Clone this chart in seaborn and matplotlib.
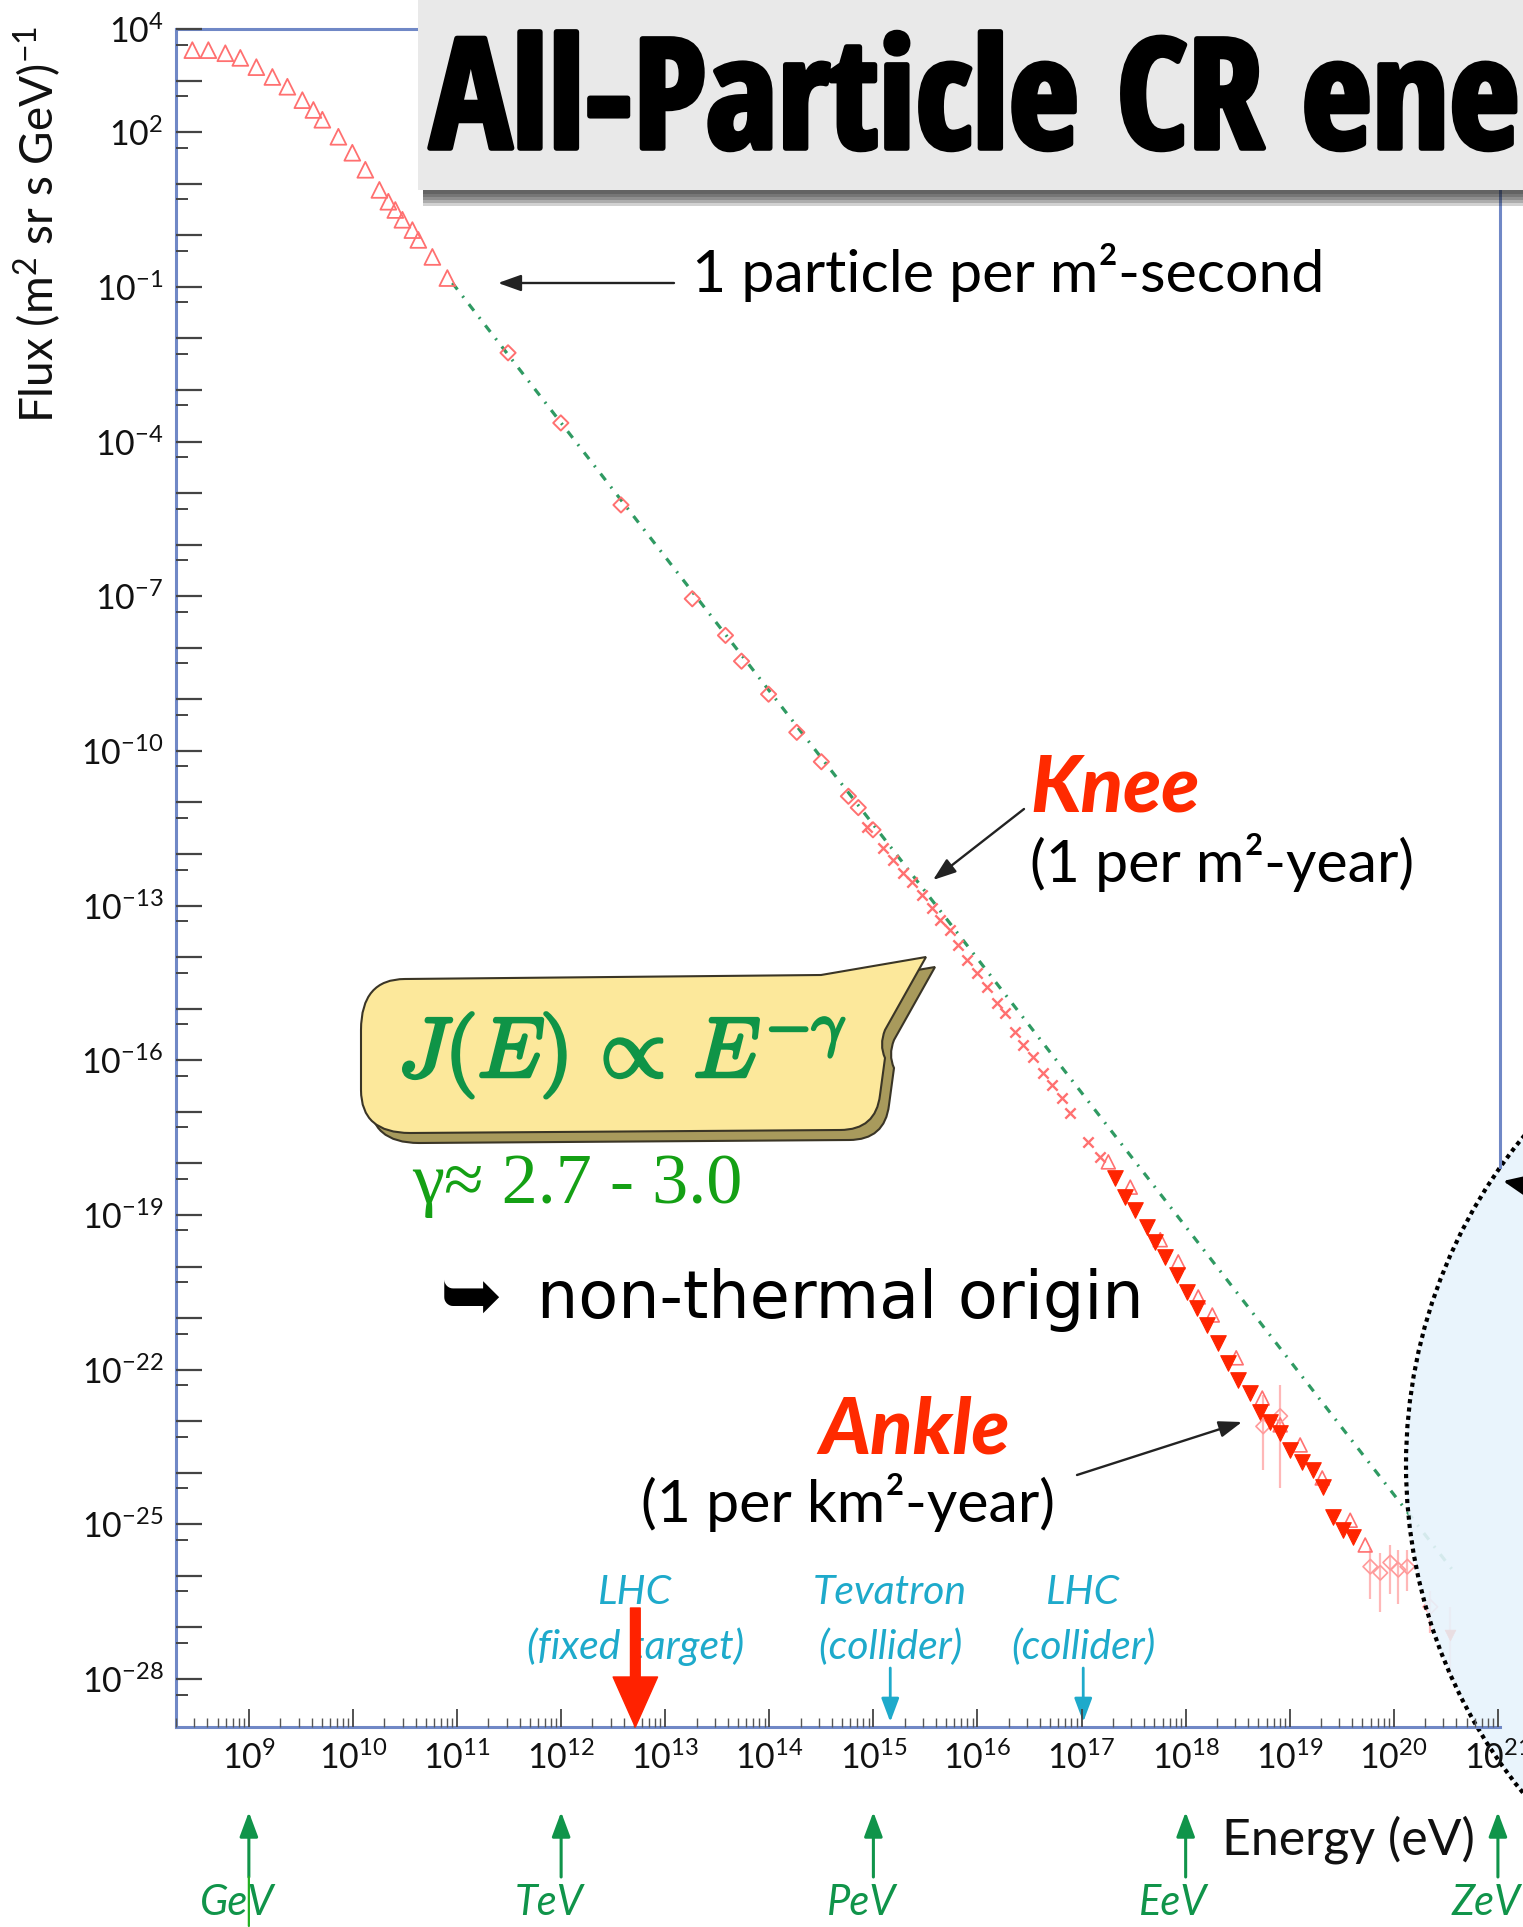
import numpy as np
import pandas as pd
import matplotlib
matplotlib.use("Agg")
import matplotlib.pyplot as plt
import seaborn as sns
from matplotlib import font_manager
from matplotlib.patches import Rectangle, Ellipse, PathPatch
from matplotlib.path import Path
from matplotlib.transforms import Affine2D
import matplotlib.patheffects as pe
from matplotlib.ticker import FixedLocator, FixedFormatter, NullFormatter

# ---------------- values: log10(E/eV), log10(flux) ----------------
low_logE = [8.457, 8.611, 8.774, 8.918, 9.072, 9.226, 9.370, 9.514, 9.620, 9.706, 9.860,
            9.994, 10.119, 10.254, 10.340, 10.407, 10.475, 10.571, 10.628, 10.763, 10.907]
low_logF = [3.59, 3.59, 3.53, 3.44, 3.26, 3.07, 2.88, 2.62, 2.43, 2.24, 1.91,
            1.60, 1.27, 0.88, 0.65, 0.49, 0.30, 0.10, -0.09, -0.42, -0.83]
dia_logE = [11.490, 11.997, 12.575, 13.260, 13.579, 13.733, 13.993, 14.264, 14.500, 14.760, 14.855, 14.996]
dia_logF = [-2.28, -3.64, -5.23, -7.05, -7.76, -8.26, -8.90, -9.64, -10.21, -10.88, -11.10, -11.53]
knee_logE = [14.941, 15.095, 15.191, 15.287, 15.374, 15.470, 15.566, 15.643, 15.739, 15.816, 15.902, 15.998,
             16.094, 16.190, 16.267, 16.363, 16.440, 16.536, 16.632, 16.719, 16.815, 16.892, 17.064, 17.180]
knee_logF = [-11.47, -11.88, -12.11, -12.37, -12.54, -12.79, -13.04, -13.28, -13.47, -13.76, -14.05, -14.30,
             -14.58, -14.89, -15.08, -15.45, -15.70, -15.93, -16.24, -16.48, -16.73, -17.02, -17.58, -17.87]
uhe_logE = [17.324, 17.420, 17.516, 17.631, 17.708, 17.804, 17.919, 18.015, 18.111, 18.207, 18.313, 18.409,
            18.505, 18.620, 18.716, 18.812, 18.908, 19.004, 19.120, 19.226, 19.322, 19.418, 19.514, 19.610]
uhe_logF = [-18.28, -18.65, -18.90, -19.23, -19.52, -19.81, -20.16, -20.49, -20.80, -21.13, -21.48, -21.87,
            -22.20, -22.45, -22.82, -23.01, -23.23, -23.56, -23.79, -23.94, -24.27, -24.85, -25.10, -25.24]
alt_logE = [17.257, 17.468, 17.756, 17.929, 18.121, 18.256, 18.486, 18.736, 18.908, 19.100, 19.312, 19.581, 19.725]
alt_logF = [-17.97, -18.46, -19.48, -19.91, -20.59, -20.94, -21.77, -22.55, -23.07, -23.46, -24.10, -24.92, -25.40]
err_logE = [18.745, 18.908, 19.774, 19.870, 19.966, 20.043, 20.130, 20.351, 20.543]
err_logF = [-23.10, -22.90, -25.82, -25.94, -25.74, -25.88, -25.82, -26.60, -27.14]
err_lo = [-23.95, -24.30, -26.45, -26.70, -26.35, -26.55, -26.30, -27.10, -27.90]
err_hi = [-22.50, -22.30, -25.45, -25.55, -25.40, -25.50, -25.50, -26.30, -26.60]
fit_logE = [10.955, 20.6]
fit_logF = [-0.925, -25.98]

x_major_exp = list(range(9, 22))
y_major_exp = list(range(-28, 5))
y_label_exp = [4, 2, -1, -4, -7, -10, -13, -16, -19, -22, -25, -28]
unit_names = ["GeV", "TeV", "PeV", "EeV", "ZeV"]
unit_exp = [9, 12, 15, 18, 21]
acc_top = ["LHC", "Tevatron", "LHC"]
acc_bottom = ["(fixed target)", "(collider)", "(collider)"]
acc_logE = [12.713, 15.162, 17.016]

# ---------------- fonts ----------------
avail = {f.name for f in font_manager.fontManager.ttflist}
def pick(*names):
    for n in names:
        if n in avail:
            return n
    return "DejaVu Sans"
SANS = pick("Lato", "Open Sans", "DejaVu Sans")
NARROW = pick("Liberation Sans Narrow", "Open Sans Condensed", "Roboto Condensed", "DejaVu Sans")
SERIF = pick("Liberation Serif", "DejaVu Serif")

sns.set_theme(style="ticks")
plt.rcParams["font.family"] = [SANS, "DejaVu Sans"]
plt.rcParams["mathtext.fontset"] = "custom"
plt.rcParams["mathtext.rm"] = SANS
plt.rcParams["mathtext.it"] = SANS + ":italic"
plt.rcParams["mathtext.bf"] = SANS + ":bold"

W, H = 1523, 1927
fig = plt.figure(figsize=(W / 100, H / 100), dpi=100)
fig.patch.set_facecolor("white")
pxT = Affine2D().scale(1.0 / W, 1.0 / H) + fig.transFigure


def P(X, Y):
    return (X, H - Y)


ax = fig.add_axes([176 / W, 1 - 1727 / H, (1500 - 176) / W, (1727 - 29) / H])
ax.set_xscale("log")
ax.set_yscale("log")
XLIM = (10 ** 8.30, 10 ** 21.02)
YLIM = (10 ** -28.93, 10 ** 4.0)
ax.set_xlim(*XLIM)
ax.set_ylim(*YLIM)


def frame(le, lf):
    return pd.DataFrame({"E": 10.0 ** np.array(le), "F": 10.0 ** np.array(lf)})


GREEN_FIT = "#2f9a62"
PALE = "#ff7070"
RED = "#ff2400"

sns.lineplot(data=frame(fit_logE, fit_logF), x="E", y="F", color=GREEN_FIT, linewidth=2.3,
             linestyle=(0, (2.6, 2.6, 0.6, 2.6)), estimator=None, sort=False, ax=ax, zorder=2)
sns.scatterplot(data=frame(low_logE, low_logF), x="E", y="F", marker="^", s=130, color=PALE,
                facecolor="none", edgecolor=PALE, linewidth=1.3, ax=ax, zorder=2.2, legend=False)
sns.scatterplot(data=frame(dia_logE, dia_logF), x="E", y="F", marker="D", s=60, color=PALE,
                facecolor="none", edgecolor=PALE, linewidth=1.4, ax=ax, zorder=2.2, legend=False)
sns.scatterplot(data=frame(knee_logE, knee_logF), x="E", y="F", marker="x", s=55, color=PALE,
                linewidth=1.7, ax=ax, zorder=2.2, legend=False)
sns.scatterplot(data=frame(alt_logE, alt_logF), x="E", y="F", marker="^", s=100, color=PALE,
                facecolor="none", edgecolor=PALE, linewidth=1.2, ax=ax, zorder=2.1, legend=False)
sns.scatterplot(data=frame(uhe_logE, uhe_logF), x="E", y="F", marker="v", s=125, color=RED,
                edgecolor=RED, linewidth=0.8, ax=ax, zorder=2.2, legend=False)
ax.vlines(10.0 ** np.array(err_logE), 10.0 ** np.array(err_lo), 10.0 ** np.array(err_hi),
          color="#ffb8b8", lw=1.6, zorder=2.0)
sns.scatterplot(data=frame(err_logE[:8], err_logF[:8]), x="E", y="F", marker="D", s=55, color="#ff9a9a",
                facecolor="none", edgecolor="#ff9a9a", linewidth=1.2, ax=ax, zorder=2.1, legend=False)
sns.scatterplot(data=frame(err_logE[8:], err_logF[8:]), x="E", y="F", marker="v", s=60, color=RED,
                edgecolor=RED, linewidth=0.5, ax=ax, zorder=2.2, legend=False)
ax.set_xlabel("")
ax.set_ylabel("")
ax.set_xlim(*XLIM)
ax.set_ylim(*YLIM)
ax.set_autoscale_on(False)

# ---------------- axes styling ----------------
SPINE = "#7088c6"
for s in ax.spines.values():
    s.set_color(SPINE)
    s.set_linewidth(2.2)
ax.spines["right"].set_bounds(10 ** -18.07, 10 ** 4.0)

ax.xaxis.set_major_locator(FixedLocator(10.0 ** np.array(x_major_exp, dtype=float)))
ax.xaxis.set_major_formatter(FixedFormatter([rf"$10^{{{e}}}$" for e in x_major_exp]))
ax.xaxis.set_minor_locator(FixedLocator([k * 10.0 ** n for n in range(8, 21) for k in range(2, 10)]))
ax.xaxis.set_minor_formatter(NullFormatter())
ax.yaxis.set_major_locator(FixedLocator(10.0 ** np.array(y_major_exp, dtype=float)))
ax.yaxis.set_major_formatter(FixedFormatter([rf"$10^{{{e}}}$" if e in y_label_exp else "" for e in y_major_exp]))
ax.yaxis.set_minor_locator(FixedLocator(5.0 * 10.0 ** np.arange(-29, 4, dtype=float)))
ax.yaxis.set_minor_formatter(NullFormatter())

ax.tick_params(axis="x", which="major", direction="in", length=13, width=1.3, color="#444444",
               pad=10, labelsize=24.5, labelcolor="#111111", top=False)
ax.tick_params(axis="x", which="minor", direction="in", length=6.5, width=1.0, color="#555555", top=False)
ax.tick_params(axis="y", which="major", direction="in", length=19, width=1.6, color="#444444",
               pad=9, labelsize=24.5, labelcolor="#111111", right=False)
ax.tick_params(axis="y", which="minor", direction="in", length=8.5, width=1.4, color="#444444", right=False)
ax.xaxis.set_zorder(3)
ax.yaxis.set_zorder(3)

# ---------------- dotted circle (right) ----------------
circ = Ellipse(P(1924, 1465), 2 * 518, 2 * 518, transform=pxT,
               facecolor=(0.905, 0.953, 0.99, 0.9), edgecolor="black", linewidth=3,
               linestyle=(0, (1, 1)), clip_on=False, zorder=2.4)
ax.add_patch(circ)
ax.annotate("", xy=P(1503, 1181), xytext=P(1575, 1195), xycoords=pxT, textcoords=pxT,
            arrowprops=dict(arrowstyle="-|>,head_length=0.8,head_width=0.35", color="black", lw=2.5,
                            mutation_scale=20, shrinkA=0, shrinkB=0), annotation_clip=False, zorder=4)

# ---------------- title box ----------------
for d in [16, 13, 10, 7, 4]:
    fig.add_artist(Rectangle(P(423, 190 + d), 1200, d + 10, transform=pxT, fc="#1a1a1a", ec="none",
                             alpha=0.2, zorder=4))
fig.add_artist(Rectangle(P(418, 190), 1200, 200, transform=pxT, fc="#e9e9e9", ec="none", zorder=5))
fig.text(*P(430, 148), "All-Particle CR energy spectrum", transform=pxT, fontsize=110, family=[NARROW, "DejaVu Sans"],
         fontweight="bold", color="black", ha="left", va="baseline", zorder=6,
         path_effects=[pe.withStroke(linewidth=4, foreground="black")])

# ---------------- speech bubble ----------------
M, L, C, Z = Path.MOVETO, Path.LINETO, Path.CURVE3, Path.CLOSEPOLY
bub = [(405, 979), (821, 975), (926, 957), (885, 1030), (879, 1045), (885, 1058), (880, 1095),
       (876, 1130), (840, 1130), (410, 1133), (361, 1133), (361, 1090), (361, 1030), (361, 979),
       (405, 979), (405, 979)]
codes = [M, L, L, L, C, C, L, C, C, L, C, C, L, C, C, Z]
shadow = Path([P(x + 9, y + 10) for x, y in bub], codes)
body = Path([P(x, y) for x, y in bub], codes)
fig.add_artist(PathPatch(shadow, transform=pxT, fc="#a89a5c", ec="#3a3526", lw=1.5, zorder=2))
fig.add_artist(PathPatch(body, transform=pxT, fc="#fce89b", ec="#3a3526", lw=1.5, zorder=2.1))
fig.text(*P(622, 1055), r"$J(E)\,\propto\,E^{-\gamma}$", transform=pxT, math_fontfamily="cm",
         fontsize=61, color="#0f9447", ha="center", va="center", zorder=3,
         path_effects=[pe.withStroke(linewidth=2.5, foreground="#0f9447")])
fig.text(*P(412, 1186), "γ≈ 2.7 - 3.0", transform=pxT, family=[SERIF, "DejaVu Serif"], fontsize=52,
         color="#14a014", ha="left", va="center", zorder=3)
fig.text(*P(440, 1300), "➥", transform=pxT, family=["DejaVu Sans"], fontsize=54, fontweight="bold",
         color="black", ha="left", va="center", zorder=3)
fig.text(*P(537, 1300), "non-thermal origin", transform=pxT, family=["DejaVu Sans"], fontsize=47,
         color="black", ha="left", va="center", zorder=3)

# ---------------- annotations ----------------
ARW = dict(arrowstyle="-|>,head_length=0.7,head_width=0.25", color="#222222", lw=1.7,
           mutation_scale=20, shrinkA=0, shrinkB=0)
fig.text(*P(692, 273), "1 particle per m²-second", transform=pxT, fontsize=42.5, color="black",
         ha="left", va="center")
ax.annotate("", xy=P(498, 283), xytext=P(674, 283), xycoords=pxT, textcoords=pxT, arrowprops=ARW,
            annotation_clip=False)
fig.text(*P(1030, 790), "Knee", transform=pxT, fontsize=56, fontweight="black", style="italic",
         color="#ff2a00", ha="left", va="center")
fig.text(*P(1030, 862), "(1 per m²-year)", transform=pxT, fontsize=42.5, color="black", ha="left", va="center")
ax.annotate("", xy=P(933, 880), xytext=P(1024, 809), xycoords=pxT, textcoords=pxT, arrowprops=ARW,
            annotation_clip=False)
fig.text(*P(915, 1432), "Ankle", transform=pxT, fontsize=56, fontweight="black", style="italic",
         color="#ff2a00", ha="center", va="center")
fig.text(*P(848, 1502), "(1 per km²-year)", transform=pxT, fontsize=42.5, color="black", ha="center", va="center")
ax.annotate("", xy=P(1242, 1422), xytext=P(1077, 1475), xycoords=pxT, textcoords=pxT, arrowprops=ARW,
            annotation_clip=False)

fig.text(*P(38, 224), r"Flux (m$^{2}$ sr s GeV)$^{-1}$", transform=pxT, rotation=90, ha="center",
         va="center", fontsize=33, color="#111111")
fig.text(*P(1348, 1840), "Energy (eV)", transform=pxT, fontsize=36, color="#111111", ha="center", va="center")

# accelerators
CYAN = "#1eaacb"
for i, (top, bot, e) in enumerate(zip(acc_top, acc_bottom, acc_logE)):
    ax.annotate(top, xy=(10 ** e, H - 1592), xycoords=("data", pxT), ha="center", va="center",
                fontsize=29.5, style="italic", color=CYAN, annotation_clip=False)
    ax.annotate(bot, xy=(10 ** e, H - 1647), xycoords=("data", pxT), ha="center", va="center",
                fontsize=29.5, style="italic", color=CYAN, annotation_clip=False)
    if i == 0:
        ax.annotate("", xy=(10 ** e, H - 1727), xytext=(10 ** e, H - 1608),
                    xycoords=("data", pxT), textcoords=("data", pxT), annotation_clip=False, zorder=6,
                    arrowprops=dict(arrowstyle="simple,head_length=1.8,head_width=1.6,tail_width=0.35",
                                    color="#ff2200", mutation_scale=20, shrinkA=0, shrinkB=0))
    else:
        ax.annotate("", xy=(10 ** e, H - 1722), xytext=(10 ** e, H - 1668),
                    xycoords=("data", pxT), textcoords=("data", pxT), annotation_clip=False,
                    arrowprops=dict(arrowstyle="-|>,head_length=0.8,head_width=0.3", color=CYAN, lw=2,
                                    mutation_scale=18, shrinkA=0, shrinkB=0))

# energy units
GREEN_U = "#10944a"
for name, e in zip(unit_names, unit_exp):
    ax.annotate("", xy=(10.0 ** e, H - 1812), xytext=(10.0 ** e, H - 1877),
                xycoords=("data", pxT), textcoords=("data", pxT), annotation_clip=False,
                arrowprops=dict(arrowstyle="-|>,head_length=0.75,head_width=0.28", color=GREEN_U, lw=2.2,
                                mutation_scale=20, shrinkA=0, shrinkB=0))
    ax.annotate(name, xy=(10.0 ** e, H - 1903), xycoords=("data", pxT), xytext=(-12, 0),
                textcoords="offset pixels", ha="center", va="center", fontsize=30, style="italic",
                color=GREEN_U, annotation_clip=False)
ax.annotate("", xy=(10.0 ** unit_exp[0], H - 1926), xytext=(10.0 ** unit_exp[0], H - 1877),
            xycoords=("data", pxT), textcoords=("data", pxT), annotation_clip=False,
            arrowprops=dict(arrowstyle="-", color="#22b022", lw=1.6, shrinkA=0, shrinkB=0))

fig.savefig("out.png", dpi=100, facecolor="white")
